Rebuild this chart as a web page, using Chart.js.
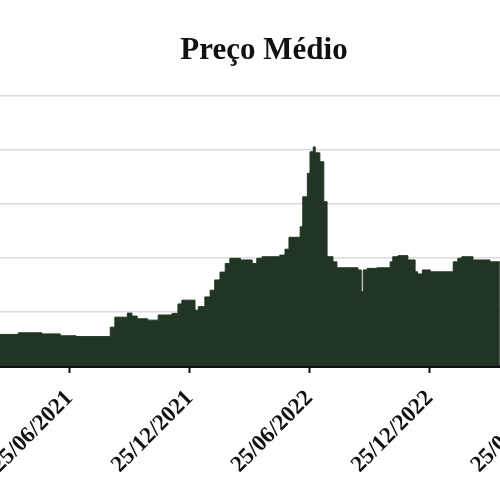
<!DOCTYPE html>
<html>
<head>
<meta charset="utf-8">
<script src="https://cdn.jsdelivr.net/npm/chart.js@4"></script>
<style>
  body { margin: 0; background: #fff; }
  #wrap { position: relative; width: 500px; height: 500px; overflow: hidden; }
  #inner { position: absolute; left: -100px; top: 0; width: 728px; height: 500px; }
</style>
</head>
<body>
<div id="wrap"><div id="inner"><canvas id="precoChart"></canvas></div></div>
<script>
// weekly-ish average price
let datas = [
  "2021-03-11", "2021-04-08", "2021-05-14", "2021-06-11", "2021-07-05",
  "2021-08-26", "2021-09-02", "2021-09-21", "2021-09-28", "2021-10-06",
  "2021-10-22", "2021-11-07", "2021-11-28", "2021-12-07", "2021-12-13",
  "2022-01-02", "2022-01-07", "2022-01-17", "2022-01-25", "2022-02-01",
  "2022-02-09", "2022-02-17", "2022-02-24", "2022-03-12", "2022-03-30",
  "2022-04-06", "2022-04-14", "2022-05-11", "2022-05-19", "2022-05-25",
  "2022-06-11", "2022-06-15", "2022-06-22", "2022-06-26", "2022-07-01",
  "2022-07-04", "2022-07-11", "2022-07-17", "2022-07-22", "2022-07-31",
  "2022-08-06", "2022-09-07", "2022-09-12", "2022-09-15", "2022-09-21",
  "2022-10-06", "2022-10-26", "2022-10-30", "2022-11-07", "2022-11-22",
  "2022-12-03", "2022-12-07", "2022-12-14", "2022-12-26", "2023-01-30",
  "2023-02-06", "2023-02-12", "2023-03-01", "2023-03-27", "2023-04-11"
];
let precos = [
  1.17, 1.23, 1.19, 1.12, 1.09,
  1.44, 1.81, 1.96, 1.85, 1.75,
  1.70, 1.89, 1.95, 2.30, 2.44,
  2.07, 2.20, 2.56, 2.81, 3.19,
  3.48, 3.80, 3.99, 3.93, 3.80,
  3.99, 4.05, 4.11, 4.33, 4.77,
  5.16, 6.27, 7.14, 7.94, 8.12,
  7.90, 7.57, 6.09, 4.05, 3.86,
  3.64, 3.56, 2.75, 3.56, 3.62,
  3.64, 3.86, 4.05, 4.09, 3.93,
  3.49, 3.41, 3.56, 3.49, 3.86,
  3.99, 4.05, 3.93, 3.86, 3.86
];
let tickDatas = ["2021-06-25", "2021-12-25", "2022-06-25", "2022-12-25", "2023-06-25"];

function dia(s) {
  let p = s.split("-");
  return Date.UTC(+p[0], +p[1] - 1, +p[2]) / 86400000;
}

function fmtData(d) {
  let dt = new Date(d * 86400000);
  let dd = String(dt.getUTCDate()).padStart(2, "0");
  let mm = String(dt.getUTCMonth() + 1).padStart(2, "0");
  return dd + "/" + mm + "/" + dt.getUTCFullYear();
}

let base = dia("2021-06-25");
let pontos = datas.map((d, i) => ({ x: dia(d), y: precos[i] }));

Chart.defaults.font.family = "'Liberation Serif', 'Times New Roman', serif";

new Chart(document.getElementById("precoChart"), {
  type: "line",
  data: {
    datasets: [{
      label: "Preço Médio",
      data: pontos,
      borderColor: "#223524",
      backgroundColor: "#223524",
      borderWidth: 1,
      pointRadius: 0,
      stepped: true,
      fill: "origin"
    }]
  },
  options: {
    responsive: true,
    maintainAspectRatio: false,
    animation: false,
    layout: { padding: { top: 32, left: 0, right: 0, bottom: 0 } },
    plugins: {
      legend: { display: false },
      tooltip: { enabled: false },
      title: {
        display: true,
        text: "Preço Médio",
        color: "#111",
        font: { size: 31, weight: "bold" },
        padding: { top: 0, bottom: 27 }
      }
    },
    scales: {
      x: {
        type: "linear",
        min: base - 258,
        max: base + 850,
        afterBuildTicks: s => { s.ticks = tickDatas.map(d => ({ value: dia(d) })); },
        afterFit: s => { s.height = 134; s.paddingLeft = 0; s.paddingRight = 0; },
        ticks: {
          autoSkip: false,
          maxRotation: 45,
          minRotation: 45,
          padding: 12,
          color: "#111",
          font: { size: 23, weight: "bold" },
          callback: v => fmtData(v)
        },
        grid: { drawOnChartArea: false, drawTicks: true, tickLength: 7, tickWidth: 2, tickColor: "#111" },
        border: { display: true, color: "#111", width: 3 }
      },
      y: {
        min: 0,
        max: 10,
        afterFit: s => { s.width = 0; },
        ticks: { display: false, stepSize: 2 },
        grid: { color: "#dcdcdc", lineWidth: 1.5, drawTicks: false },
        border: { display: false }
      }
    }
  }
});
</script>
</body>
</html>
